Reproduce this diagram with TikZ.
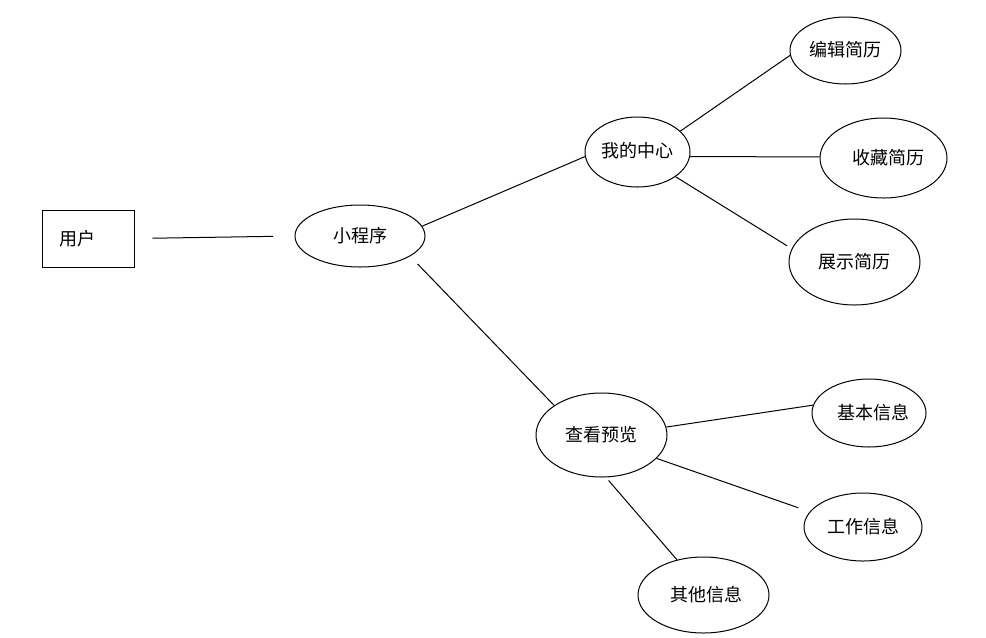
\documentclass[tikz,border=0pt]{standalone}
\usepackage{fontspec}
\setmainfont{Noto Sans CJK SC}
\usetikzlibrary{shapes.geometric}
\begin{document}
\begin{tikzpicture}[x=0.75pt,y=-0.75pt,
  every node/.style={font=\fontsize{13.5}{16}\selectfont, inner sep=0pt, text=black},
  oval/.style={draw, ellipse, line width=0.75pt},
  boxnode/.style={draw, rectangle, line width=0.75pt},
  link/.style={draw, line width=0.75pt}]
\useasboundingbox (0,0) rectangle (986,637);
\fill[white] (0,0) rectangle (986,637);
\node[boxnode, minimum width=69pt, minimum height=42.75pt] (user) at (88,238.5) {用户\kern15pt\null};
\node[oval, minimum width=97.5pt, minimum height=46.5pt] (app) at (360,236) {小程序};
\node[oval, minimum width=78.75pt, minimum height=52.5pt] (center) at (637.5,152) {\raisebox{3pt}{我的中心}};
\node[oval, minimum width=83.25pt, minimum height=50.25pt] (edit) at (845.5,50.5) {\raisebox{2pt}{编辑简历}};
\node[oval, minimum width=95.25pt, minimum height=60pt] (collect) at (883.5,158) {\hspace{7pt}收藏简历};
\node[oval, minimum width=98.25pt, minimum height=64.5pt] (show) at (854.5,262) {展示简历};
\node[oval, minimum width=98.25pt, minimum height=63pt] (preview) at (601.5,435) {查看预览};
\node[oval, minimum width=85.5pt, minimum height=51pt] (basic) at (869,413) {\hspace{6pt}基本信息};
\node[oval, minimum width=88.5pt, minimum height=51pt] (work) at (863,527) {工作信息};
\node[oval, minimum width=98.25pt, minimum height=57pt] (other) at (703.5,595) {\raisebox{2pt}{\hspace{5pt}其他信息}};

\draw[link, shorten <=13.5pt, shorten >=16pt] (user.east) -- (app.west);
\draw[link] (app.9) -- (center.185);
\draw[link, shorten <=8pt] (app.-22) -- (preview.148);
\draw[link] (center.26) -- (edit.185);
\draw[link] (center.-5) -- (collect.179);
\draw[link, shorten >=4pt] (center.-33) -- (show.168);
\draw[link] (preview.7) -- (basic.172);
\draw[link, shorten >=9pt] (preview.-23) -- (work.164);
\draw[link, shorten <=3pt] (preview.-84) -- (other.127);
\end{tikzpicture}
\end{document}
